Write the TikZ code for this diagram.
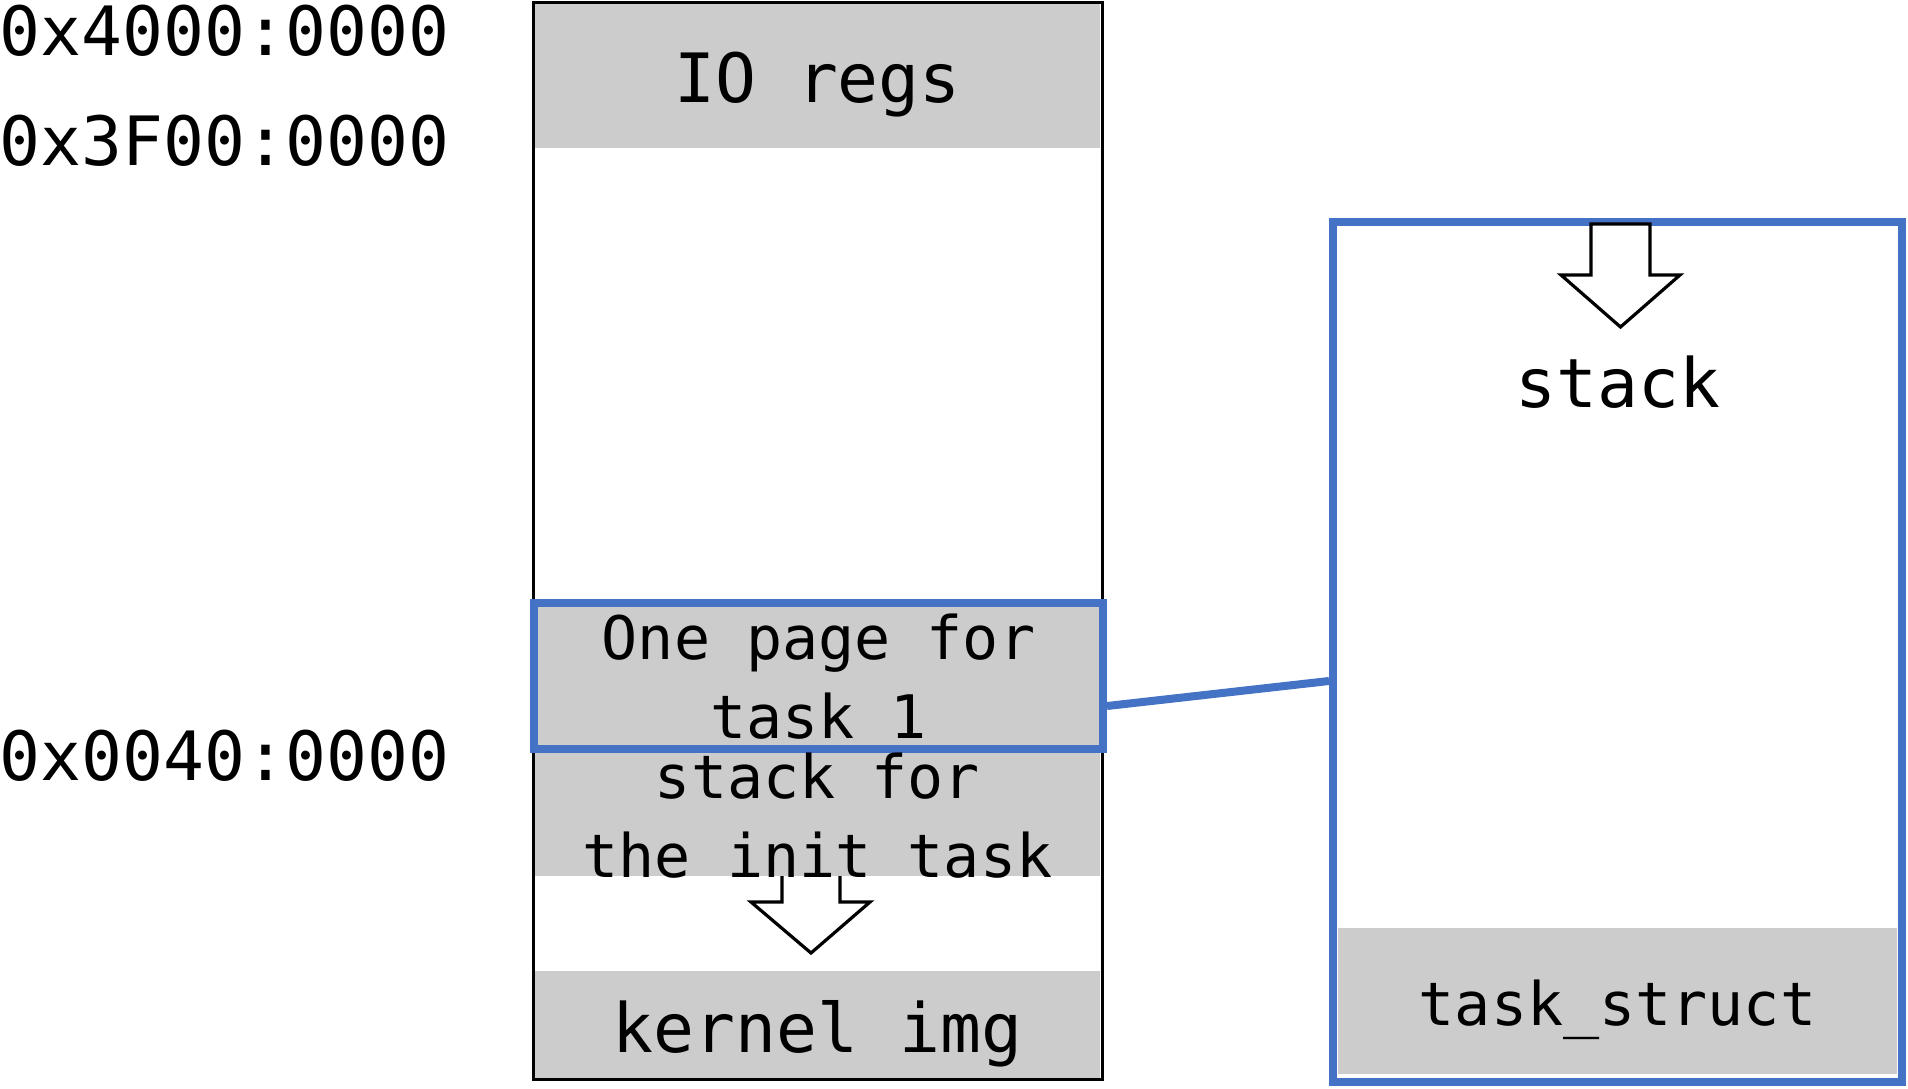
\documentclass[tikz,border=0pt]{standalone}
\usepackage{fontspec}
\setmonofont{DejaVu Sans Mono}
\definecolor{cellgray}{RGB}{204,204,204}
\definecolor{pageblue}{RGB}{68,114,196}
\tikzset{
  cell/.style={fill=cellgray, inner sep=0pt, minimum width=282.5pt},
  bluebox/.style={draw=pageblue, line width=4pt, inner sep=0pt, minimum width=284.5pt},
  bigtxt/.style={anchor=base, inner sep=0pt, font=\ttfamily\fontsize{34}{40}\selectfont},
  smalltxt/.style={anchor=base, inner sep=0pt, align=center, font=\ttfamily\fontsize{30}{39.5}\selectfont},
  hollow/.style={draw, fill=white, line width=1.6pt},
  link/.style={draw=pageblue, line width=4pt}
}
\begin{document}
\begin{tikzpicture}[x=.5pt, y=-.5pt]
\useasboundingbox (0,0) rectangle (1908,1088);
% addresses
\node[bigtxt, anchor=base west](addrtop) at (-1,55){0x4000:0000};
\node[bigtxt, anchor=base west](addrio) at (-1,165){0x3F00:0000};
\node[bigtxt, anchor=base west](addrpage) at (-1,780){0x0040:0000};
% memory map
\draw[hollow](782,874)--(782,902)--(751,902)--(811,953)--(870,902)--(840,902)--(840,874)--cycle;
\node[cell, minimum height=72.5pt](io) at (817.5,75.5){};
\node[cell, minimum height=61.5pt](initstk) at (817.5,814.5){};
\node[cell, minimum height=53.5pt](kimg) at (817.5,1024.5){};
\node[draw, line width=1.5pt, inner sep=0pt, minimum width=284.5pt, minimum height=538.5pt](mem) at (817.5,540.5){};
\node[bluebox, fill=cellgray, minimum height=73pt](page) at (818.5,676){};
\node[bigtxt](iotxt) at (817.5,102){IO regs};
\node[smalltxt](pagetxt) at (818.5,738){One page for\\task 1};
\node[smalltxt](initstktxt) at (817.5,877){stack for\\the init task};
\node[bigtxt](kimgtxt) at (817.5,1052){kernel img};
% task page
\node[bluebox, minimum height=430pt](tcb) at (1617.5,652){};
\node[cell, minimum width=279.5pt, minimum height=73pt](tstruct) at (1617.5,1001){};
\draw[hollow](1591,224)--(1591,275)--(1561,275)--(1620.5,327)--(1680,275)--(1650,275)--(1650,224)--cycle;
\node[bigtxt](stacktxt) at (1618,407){stack};
\node[smalltxt](tstructtxt) at (1617.5,1025){task\_struct};
\draw[link]([yshift=-15pt]page.east)--([yshift=-14.5pt]tcb.west);
\end{tikzpicture}
\end{document}
